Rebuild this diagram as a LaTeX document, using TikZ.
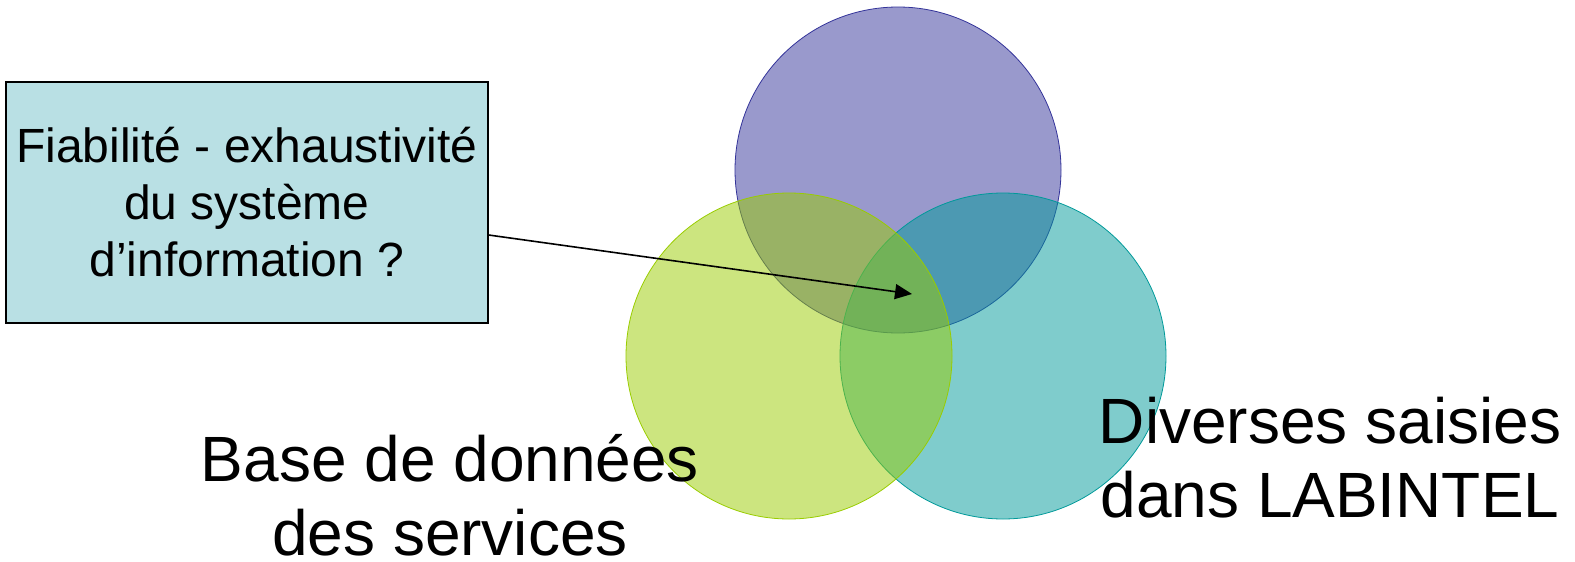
\documentclass[tikz,border=0pt]{standalone}
\usepackage{fontspec}
\setmainfont{Liberation Sans}
\usetikzlibrary{arrows.meta}
\definecolor{setpurple}{RGB}{51,51,153}
\definecolor{setgreen}{RGB}{153,204,0}
\definecolor{setteal}{RGB}{0,153,153}
\definecolor{boxblue}{RGB}{185,224,228}
\begin{document}
\begin{tikzpicture}[x=1pt,y=-1pt,
		setcircle/.style={circle, minimum size=326pt, inner sep=0pt, line width=0.8pt, fill opacity=0.5},
		biglabel/.style={align=center, font=\fontsize{64}{74}\selectfont, inner sep=0pt},
		pointer/.style={-{Triangle[length=17pt,width=15pt]}, line width=1.6pt}]
		\useasboundingbox (0,0) rectangle (1575,562);
		\node (info) [setcircle, draw=setpurple, fill=setpurple] at (898,170) {};
		\node (labintel) [setcircle, draw=setteal, fill=setteal] at (1003,356) {};
		\node (base) [setcircle, draw=setgreen, fill=setgreen] at (789,356) {};

		\node (q) [draw=black, line width=1.2pt, fill=boxblue, minimum width=482pt, minimum height=241pt, inner sep=0pt,
			align=center, font=\fontsize{48}{57}\selectfont] at (247,202.5) {Fiabilité - exhaustivité\\du système\\d’information ?};
		\coordinate (tip) at (912,294);
		\draw[pointer] ([yshift=-32.5pt]q.east) -- (tip);

		\node (baselabel) [biglabel] at (450,495) {Base de données\\des services};
		\node (labintellabel) [biglabel] at (1330,458) {Diverses saisies\\dans LABINTEL};
	\end{tikzpicture}
\end{document}
